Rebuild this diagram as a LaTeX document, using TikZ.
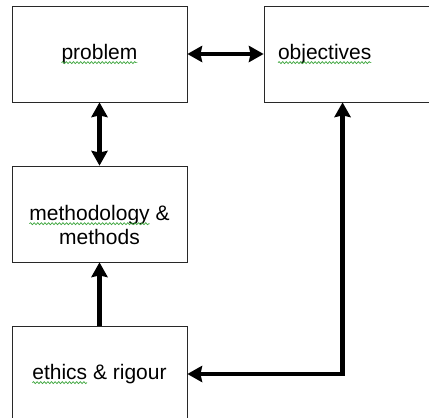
\documentclass[tikz,border=0pt]{standalone}
\usepackage{fontspec}
\setmainfont{Liberation Sans}
\usetikzlibrary{arrows.meta,decorations.pathmorphing}

\definecolor{spellgreen}{RGB}{60,165,60}
\definecolor{boxline}{RGB}{40,40,40}

\tikzset{
  box/.style={draw=boxline, line width=0.9pt, minimum width=175pt,
    minimum height=96pt, inner sep=0pt, font=\fontsize{21}{24}\selectfont},
  lbl/.style={inner sep=0pt, align=center, font=\fontsize{21}{24}\selectfont},
  conn/.style={line width=4.5pt, draw=black,
    >={Stealth[length=15pt,width=17pt,inset=2pt,line width=0pt]}},
  plainword/.style={draw=none, inner sep=0pt, outer sep=0pt, minimum width=0pt,
    minimum height=0pt, text width={}, align=none},
  spellmark/.style={spellgreen, line width=0.7pt, decorate,
    decoration={snake, amplitude=1pt, segment length=3.6pt}}
}

% word with a green wavy underline
\newcommand\wavyword[1]{\tikz[baseline=(ww.base)]{%
  \node[plainword] (ww) {#1};%
  \draw[spellmark, overlay] ([yshift=-3.2pt]ww.base west) -- ([yshift=-3.2pt]ww.base east);}}

\begin{document}
\begin{tikzpicture}[x=1pt, y=-1pt]
  \useasboundingbox (0,0) rectangle (429,418);
  \clip (0,0) rectangle (429,418);

  % boxes
  \node[box] (p) at (99.5,54) {\wavyword{problem}};
  \node[box, minimum width=200pt, text width=172pt, inner xsep=14pt, align=left]
    (o) at (364,54) {\wavyword{objectives}};
  \node[box] (m) at (99.5,214) {};
  \node[lbl] (mt) at (99.5,225) {\wavyword{methodology} \&\\methods};
  \node[box] (e) at (99.5,374) {\wavyword{ethics} \& rigour};

  % connectors
  \coordinate (ob) at ([xshift=79pt]o.south west);
  \draw[conn, <->] (p.east) -- (o.west);
  \draw[conn, <->] (p.south) -- (m.north);
  \draw[conn, ->] (e.north) -- (m.south);
  \draw[conn, <->] (e.east) -| (ob);
\end{tikzpicture}
\end{document}
